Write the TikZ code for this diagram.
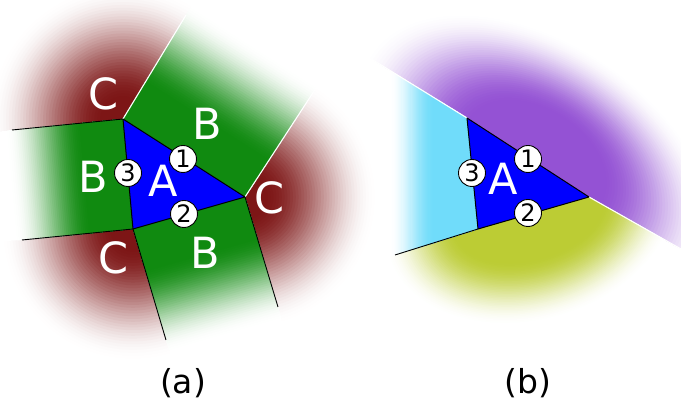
\documentclass[tikz,border=0pt]{standalone}
\usepackage{fontspec}
\setmainfont{DejaVu Sans}
\definecolor{cRed}{RGB}{125,22,22}
\definecolor{cGreen}{RGB}{16,138,16}
\definecolor{cBlue}{RGB}{0,0,255}
\definecolor{cPurple}{RGB}{148,82,212}
\definecolor{cCyan}{RGB}{112,220,250}
\definecolor{cYellow}{RGB}{188,204,52}
% radial bands: #1 colour, #2 full radius, #3 white radius
\newcommand\RadBands[3]{%
  \foreach \i in {1,...,40}{%
    \pgfmathsetmacro\myT{\i/40}%
    \pgfmathsetmacro\myP{100*(3*\myT*\myT-2*\myT*\myT*\myT)}%
    \pgfmathsetmacro\myR{#3-(#3-#2)*\myT}%
    \fill[#1!\myP!white] (0,0) circle[radius=\myR pt];}}
% elliptic bands: #1 colour, #2 a0, #3 a1, #4 b0, #5 b1
\newcommand\EllBands[5]{%
  \foreach \i in {1,...,40}{%
    \pgfmathsetmacro\myT{\i/40}%
    \pgfmathsetmacro\myP{100*(3*\myT*\myT-2*\myT*\myT*\myT)}%
    \pgfmathsetmacro\myA{#3-(#3-#2)*\myT}%
    \pgfmathsetmacro\myB{#5-(#5-#4)*\myT}%
    \fill[#1!\myP!white] (0,0) ellipse[x radius=\myA, y radius=\myB];}}
% linear bands along local x: #1 colour, #2 full distance, #3 white distance, #4 half width
\newcommand\LinBands[4]{%
  \foreach \i in {1,...,40}{%
    \pgfmathsetmacro\myT{\i/40}%
    \pgfmathsetmacro\myP{100*(3*\myT*\myT-2*\myT*\myT*\myT)}%
    \pgfmathsetmacro\myD{#3-(#3-#2)*\myT}%
    \fill[#1!\myP!white] (-150,-#4) rectangle (\myD,#4);}}
\begin{document}
\begin{tikzpicture}[x=1pt,y=1pt,
  tri/.style={fill=cBlue, draw=black, line width=1pt, line join=round},
  bline/.style={black, line width=0.9pt},
  wline/.style={white, line width=1.1pt},
  num/.style={circle, draw=black, fill=white, line width=0.9pt, minimum size=27pt, inner sep=0pt, font=\fontsize{24}{24}\selectfont},
  big/.style={text=white, inner sep=0pt, font=\fontsize{43}{43}\selectfont},
  plabel/.style={inner sep=0pt, font=\fontsize{33}{33}\selectfont}]
\useasboundingbox (0,0) rectangle (681,401);
\clip (0,0) rectangle (681,401);
\fill[white] (0,0) rectangle (681,401);

% ---------------- panel (a) ----------------
\coordinate (T1) at (123,282);
\coordinate (T2) at (245,204);
\coordinate (T3) at (133,172);
\coordinate (E1) at (12,271);
\coordinate (E2) at (186,386);
\coordinate (E3) at (318,316);
\coordinate (E4) at (278,94);
\coordinate (E5) at (22,161);
\coordinate (E6) at (166,61);
\coordinate (F1) at (-99,260);
\coordinate (F2) at (249,490);
\coordinate (F3) at (391,428);
\coordinate (F4) at (311,-16);
\coordinate (F5) at (-89,150);
\coordinate (F6) at (199,-50);

% red corners
\begin{scope}
  \clip (T1) -- (F1) -- (-99,700) -- (249,700) -- (F2) -- cycle;
  \begin{scope}[shift={(T1)}]\RadBands{cRed}{20}{134}\end{scope}
\end{scope}
\begin{scope}
  \clip (T2) -- (F3) -- (700,428) -- (700,-16) -- (F4) -- cycle;
  \begin{scope}[shift={(T2)}]\RadBands{cRed}{20}{132}\end{scope}
\end{scope}
\begin{scope}
  \clip (T3) -- (F5) -- (-89,-50) -- (F6) -- cycle;
  \begin{scope}[shift={(T3)}]\RadBands{cRed}{20}{132}\end{scope}
\end{scope}
% green strips
\begin{scope}
  \clip (T1) -- (T2) -- (F3) -- (F2) -- cycle;
  \begin{scope}[shift={(T1)}, rotate=57.4]\LinBands{cGreen}{42}{132}{300}\end{scope}
\end{scope}
\begin{scope}
  \clip (T1) -- (F1) -- (F5) -- (T3) -- cycle;
  \begin{scope}[shift={(T1)}, rotate=185.2]\LinBands{cGreen}{42}{118}{300}\end{scope}
\end{scope}
\begin{scope}
  \clip (T3) -- (F6) -- (F4) -- (T2) -- cycle;
  \begin{scope}[shift={(T3)}, rotate=-74]\LinBands{cGreen}{42}{128}{300}\end{scope}
\end{scope}

\draw[bline] (T1) -- (E1);
\draw[wline] (T1) -- (E2);
\draw[wline] (T2) -- (E3);
\draw[bline] (T2) -- (E4);
\draw[bline] (T3) -- (E5);
\draw[bline] (T3) -- (E6);
\filldraw[tri] (T1) -- (T2) -- (T3) -- cycle;

\node[big] (Aa) at (163,220) {A};
\node[big] (Bt) at (207,277) {B};
\node[big] (Bl) at (93,224) {B};
\node[big] (Bb) at (205,148) {B};
\node[big] (Ct) at (104,307) {C};
\node[big] (Cr) at (270,203) {C};
\node[big] (Cb) at (114,143) {C};
\node[num] (a1) at (183,242) {1};
\node[num] (a2) at (184,187) {2};
\node[num] (a3) at (128,228) {3};
\node[plabel] (la) at (183,18) {(a)};

% ---------------- panel (b) ----------------
\coordinate (U1) at (467,283);
\coordinate (U2) at (589,204);
\coordinate (U3) at (478,172);
\coordinate (P1) at (373,341);
\coordinate (P2) at (681,152);
\coordinate (Q1) at (395,146);
\coordinate (PX) at (185,457);
\coordinate (QX) at (229,94);
\coordinate (RX) at (800,85);

% purple
\begin{scope}
  \clip (PX) -- (P1) -- (U1) -- (U2) -- (P2) -- (RX) -- (800,500) -- (185,500) -- cycle;
  \begin{scope}[shift={(535,240)}, rotate=-33]\EllBands{cPurple}{75}{200}{50}{122}\end{scope}
\end{scope}
% yellow
\begin{scope}
  \clip (QX) -- (Q1) -- (U3) -- (U2) -- (P2) -- (RX) -- (800,-50) -- (229,-50) -- cycle;
  \begin{scope}[shift={(530,187)}, rotate=16]\EllBands{cYellow}{75}{150}{45}{108}\end{scope}
\end{scope}
% cyan
\begin{scope}
  \clip (PX) -- (P1) -- (U1) -- (U3) -- (Q1) -- (QX) -- cycle;
  \begin{scope}[shift={(434,0)}, rotate=180]\LinBands{cCyan}{0}{45}{500}\end{scope}
\end{scope}

\draw[wline] (P1) -- (U1);
\draw[wline] (U2) -- (P2);
\draw[bline] (Q1) -- (U3);
\filldraw[tri] (U1) -- (U2) -- (U3) -- cycle;

\node[big] (Ab) at (503,222) {A};
\node[num] (b1) at (528,242) {1};
\node[num] (b2) at (528,188) {2};
\node[num] (b3) at (472,228) {3};
\node[plabel] (lb) at (528,18) {(b)};
\end{tikzpicture}
\end{document}
